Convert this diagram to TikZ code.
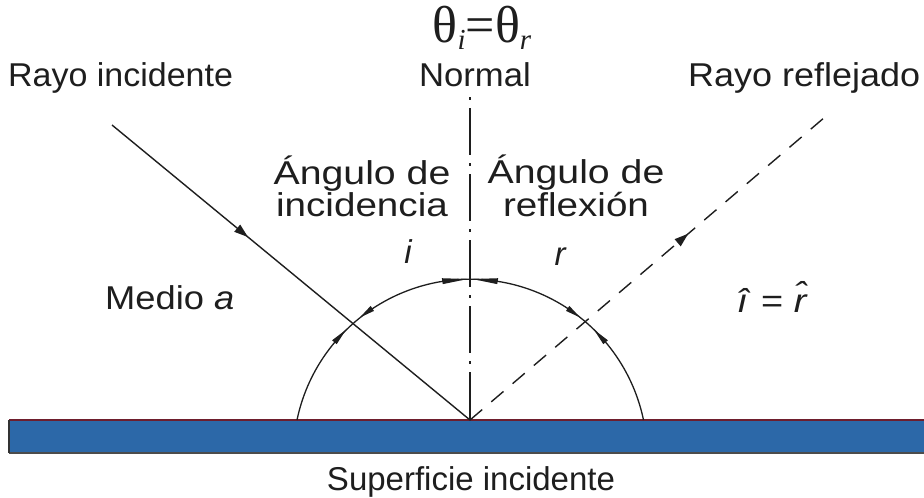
\documentclass[tikz,border=0pt]{standalone}
\usepackage{fontspec}
\usepackage{graphicx}
\setmainfont{Liberation Sans}
\newfontfamily\eqfont{Liberation Serif}
\usetikzlibrary{arrows.meta,decorations.markings}
\definecolor{barblue}{RGB}{44,104,168}
\definecolor{barred}{RGB}{110,30,45}
\definecolor{ink}{RGB}{30,30,30}
\newcommand{\arcarr}[2]{\fill[ink,shift={(C)}] (#1:177) -- (#2:180) -- (#2:174) -- cycle;}
\newcommand{\wide}[2]{\scalebox{#1}[1]{#2}}
\begin{document}
\begin{tikzpicture}[x=1pt,y=-1pt,
  lbl/.style={font=\fontsize{33}{29}\selectfont, inner sep=0pt, text=ink},
  rayline/.style={line width=1.4pt, draw=ink},
  arcline/.style={line width=1.3pt, draw=ink}]
\useasboundingbox (0,0) rectangle (924,498);
\fill[white] (0,0) rectangle (924,498);
% surface
\fill[barblue] (9,420) rectangle (924,453);
\draw[barred,line width=1.2pt] (9,420) -- (924,420);
\draw[black!70,line width=1.2pt] (9,453) -- (924,453);
\draw[black!80,line width=1.2pt] (9,420) -- (9,453);
% coordinates
\coordinate (O) at (470,420);
\coordinate (C) at (470,456);
\coordinate (Istart) at (112,125);
\coordinate (Rend) at (825,117);
\coordinate (Ntop) at (470,97);
\coordinate (Lfoot) at (297,420);
% normal
\draw[ink,line width=1.2pt,dash pattern=on 3pt off 8pt on 47pt off 8pt] (Ntop) -- (O);
% arc
\draw[arcline] (Lfoot) arc[start angle=-168.2, end angle=-11.8, radius=177];
\arcarr{-90.8}{-99}
\arcarr{-89.2}{-81}
\arcarr{-128.5}{-123.5}
\arcarr{-51.5}{-56.5}
\arcarr{-134.5}{-140}
\arcarr{-45.5}{-40}
% incident ray
\draw[rayline,decoration={markings,mark=at position 0.38 with {\arrow{Triangle[length=14pt,width=9pt]}}},postaction=decorate] (Istart) -- (O);
% reflected ray
\draw[rayline,dash pattern=on 16pt off 12pt,decoration={markings,mark=at position 0.615 with {\arrow{Triangle[length=14pt,width=9pt]}}},postaction=decorate] (O) -- (Rend);
% labels
\node[font=\eqfont\fontsize{52}{52}\selectfont,anchor=base,inner sep=0pt,text=ink] (eq) at (482,42) {θ\raisebox{-7pt}{\fontsize{29}{29}\selectfont\itshape i}=θ\raisebox{-7pt}{\fontsize{29}{29}\selectfont\itshape r}};
\node[lbl,anchor=base west] (ri) at (8,86) {\wide{1.03}{Rayo incidente}};
\node[lbl,anchor=base] (nm) at (475,86) {\wide{1.05}{Normal}};
\node[lbl,anchor=base west] (rr) at (688,86) {\wide{1.09}{Rayo reflejado}};
\node[lbl,anchor=base,align=center] (ai) at (362,216) {\wide{1.19}{Ángulo de}\\\wide{1.17}{incidencia}};
\node[lbl,anchor=base,align=center] (ar) at (576,216) {\wide{1.19}{Ángulo de}\\\wide{1.17}{reflexión}};
\node[lbl,anchor=base] (li) at (408,263) {\itshape i};
\node[lbl,anchor=base] (lr) at (560,265) {\itshape r};
\node[lbl,anchor=base west] (ma) at (105,309) {\wide{1.1}{Medio \itshape a}};
\node[lbl,anchor=base west] (ir) at (737,312) {\wide{1.15}{\itshape î\/\upshape{} = \itshape r̂}};
\node[lbl,anchor=base] (si) at (471,490) {Superficie incidente};
\end{tikzpicture}
\end{document}
